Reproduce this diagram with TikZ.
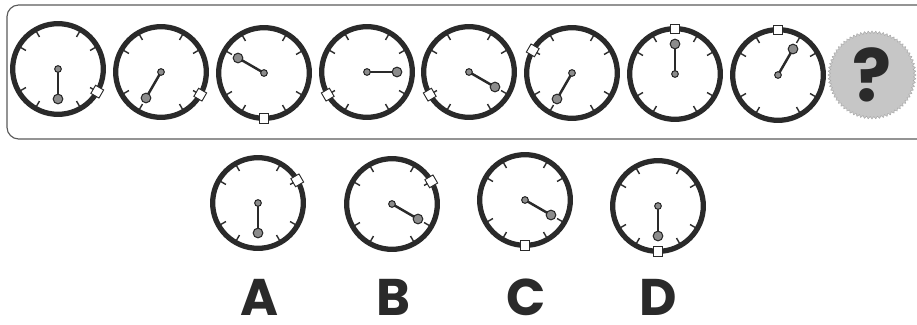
\documentclass[tikz,border=0pt]{standalone}
\usepackage{fontspec}
\setmainfont{Poppins}
\usetikzlibrary{shapes.geometric}

\definecolor{ringgray}{HTML}{2A2A2A}
\definecolor{dotgray}{HTML}{8C8C8C}
\definecolor{gearfill}{HTML}{C6C6C6}
\definecolor{framegray}{HTML}{5A5A5A}

% one dial: name, position, hand angle, marker angle
\newcommand{\dial}[4]{%
  \node[face] (#1) at (#2) {};
  \foreach \t in {30,60,120,150,210,240,300,330}
    \draw[tick] (#1.center) ++(\t:37) -- ++(\t:7);
  \draw[hand] (#1.center) -- ++(#3:30) node[tipdot] (#1-tip) {};
  \node[hubdot] (#1-hub) at (#1.center) {};
  \node[marker, rotate=#4] (#1-mark) at (#1.#4) {};
}

\begin{document}
\begin{tikzpicture}[x=0.03cm, y=0.03cm,
  face/.style={circle, draw=ringgray, line width=4.5pt, fill=white,
               minimum size=2.72cm, inner sep=0pt, outer sep=0pt},
  tick/.style={draw=ringgray, line width=1.2pt},
  hand/.style={draw=ringgray, line width=2.1pt},
  tipdot/.style={circle, fill=dotgray, draw=ringgray, line width=0.9pt,
                 minimum size=0.29cm, inner sep=0pt},
  hubdot/.style={circle, fill=dotgray, draw=ringgray, line width=0.9pt,
                 minimum size=0.2cm, inner sep=0pt},
  marker/.style={rectangle, fill=white, draw=ringgray, line width=0.8pt,
                 minimum size=0.28cm, inner sep=0pt},
  gear/.style={star, star points=72, star point ratio=1.06, fill=gearfill,
               draw=gearfill!85!black, line width=0.4pt,
               minimum size=2.64cm, inner sep=0pt,
               font=\bfseries\fontsize{62}{62}\selectfont, text=ringgray},
  letter/.style={font=\bfseries\fontsize{44}{44}\selectfont, text=ringgray,
                 inner sep=0pt}]

  \clip (0,0) rectangle (917,324);
  \draw[framegray, line width=1pt, rounded corners=10pt] (7,319) rectangle (940,185);

  % sequence
  \dial{c1}{58,255}{-90}{-30}
  \dial{c2}{161,252}{-120}{-30}
  \dial{c3}{264,251}{150}{-90}
  \dial{c4}{367,252}{0}{-150}
  \dial{c5}{469,252}{-30}{-150}
  \dial{c6}{572,251}{-120}{150}
  \dial{c7}{675,250}{90}{90}
  \dial{c8}{778,249}{60}{90}
  \node[gear] (quest) at (872,249) {?};

  % answers
  \dial{optA}{258,121}{-90}{30}
  \dial{optB}{392,120}{-30}{30}
  \dial{optC}{525,124}{-30}{-90}
  \dial{optD}{658,118}{-90}{-90}

  \node[letter] (labA) at (259,27) {A};
  \node[letter] (labB) at (393,27) {B};
  \node[letter] (labC) at (526,27) {C};
  \node[letter] (labD) at (658,27) {D};

\end{tikzpicture}
\end{document}
